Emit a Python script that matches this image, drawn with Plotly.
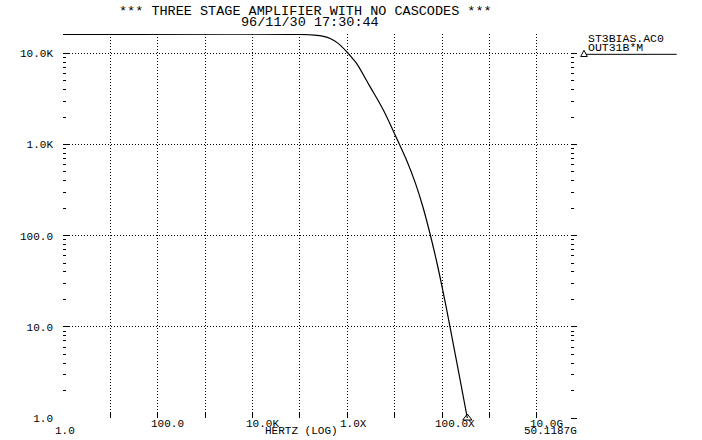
import math
import plotly.graph_objects as go

# ---- data ----
freq_hz = [1, 1.0e5, 2.0e5, 3.16e5, 4.47e5, 6.31e5, 9.72e5, 1.26e6, 1.58e6,
           3.02e6, 5.76e6, 1.10e7, 1.75e7, 2.77e7, 3.92e7, 5.57e7, 7.87e7,
           1.11e8, 1.47e8, 2.24e8, 3.41e8]
mag = [16100, 16100, 15850, 15350, 14450, 12940, 10400, 8910, 7710,
       4310, 2390, 1170, 689, 370, 209, 105, 49.2,
       21.1, 10.0, 3.18, 1.0]

x_tick_vals = [1e2, 1e4, 1e6, 1e8, 1e10]
x_tick_text = ["100.0", "10.0K", "1.0X", "100.0X", "10.0G"]
x_decades = [10 ** k for k in range(0, 11)]
y_tick_vals = [1, 10, 100, 1000, 10000]
y_tick_text = ["1.0", "10.0", "100.0", "1.0K", "10.0K"]
y_minor = [m * 10 ** k for k in range(0, 5) for m in range(2, 10)]

title_text = "*** THREE STAGE AMPLIFIER WITH NO CASCODES ***"
date_text = "96/11/30 17:30:44"
x_title = "HERTZ (LOG)"
x_start_text = "1.0"
x_end_text = "50.1187G"
legend_file = "ST3BIAS.AC0"
legend_sig = "OUT31B*M"

FONT = "Liberation Mono"
INK = "#000000"
TICK_SIZE = 11
Y_RANGE = [0, 4.212]

fig = go.Figure()
fig.add_trace(go.Scatter(
    x=freq_hz, y=mag, mode="lines",
    line=dict(color=INK, width=1.2, shape="spline", smoothing=1.0),
    showlegend=False, hoverinfo="skip"))
# end-of-curve marker, drawn on the right-hand (mirror) axis with identical scale
fig.add_trace(go.Scatter(
    x=freq_hz[-1:], y=mag[-1:], mode="markers", yaxis="y2",
    marker=dict(symbol="triangle-up-open", size=8, color=INK,
                line=dict(width=1, color=INK)),
    cliponaxis=False, showlegend=False, hoverinfo="skip"))

fig.update_layout(
    width=702, height=440,
    margin=dict(l=63, r=132, t=34, b=22),
    paper_bgcolor="white", plot_bgcolor="white",
    font=dict(family=FONT, size=TICK_SIZE, color=INK),
    showlegend=False,
)

fig.update_xaxes(
    type="log", range=[0, 10.7],
    tickvals=x_decades, ticktext=[""] * len(x_decades),
    ticks="inside", ticklen=5, tickwidth=1, tickcolor=INK,
    showgrid=True, gridcolor=INK, gridwidth=1, griddash="1px,2px",
    showline=False, zeroline=False, mirror=False,
)
fig.update_layout(yaxis=dict(
    type="log", range=Y_RANGE,
    tickvals=y_tick_vals, ticktext=y_tick_text,
    ticks="inside", ticklen=6, tickwidth=1, tickcolor=INK,
    minor=dict(tickvals=y_minor, ticks="inside", ticklen=3, tickcolor=INK,
               showgrid=False),
    showgrid=True, gridcolor=INK, gridwidth=1, griddash="1px,2px",
    showline=False, zeroline=False, mirror=False,
    tickfont=dict(family=FONT, size=TICK_SIZE, color=INK),
    ticklabelstandoff=9,
), yaxis2=dict(
    type="log", range=Y_RANGE, overlaying="y", side="right",
    tickvals=y_tick_vals, showticklabels=False,
    ticks="outside", ticklen=6, tickwidth=1, tickcolor=INK,
    minor=dict(tickvals=y_minor, ticks="outside", ticklen=3, tickcolor=INK,
               showgrid=False),
    showgrid=False, showline=False, zeroline=False,
))

ann = []
for v, t in zip(x_tick_vals, x_tick_text):
    ann.append(dict(x=math.log10(v), xref="x", y=-0.0156, yref="paper",
                    text=t, showarrow=False, xanchor="left", yanchor="middle",
                    xshift=-9, font=dict(family=FONT, size=TICK_SIZE, color=INK)))
ann.append(dict(x=0, xref="x", y=-0.034, yref="paper", text=x_start_text,
                showarrow=False, xanchor="left", yanchor="middle", xshift=-10,
                font=dict(family=FONT, size=TICK_SIZE, color=INK)))
ann.append(dict(x=0.4714, xref="paper", y=-0.034, yref="paper", text=x_title,
                showarrow=False, xanchor="center", yanchor="middle",
                font=dict(family=FONT, size=TICK_SIZE, color=INK)))
ann.append(dict(x=0.9606, xref="paper", y=-0.034, yref="paper", text=x_end_text,
                showarrow=False, xanchor="center", yanchor="middle",
                font=dict(family=FONT, size=TICK_SIZE, color=INK)))
ann.append(dict(x=0.479, xref="paper", y=1.0573, yref="paper", text=title_text,
                showarrow=False, xanchor="center", yanchor="middle",
                font=dict(family=FONT, size=13.5, color=INK)))
ann.append(dict(x=0.487, xref="paper", y=1.0306, yref="paper", text=date_text,
                showarrow=False, xanchor="center", yanchor="middle",
                font=dict(family=FONT, size=13.5, color=INK)))
ann.append(dict(x=1.0315, xref="paper", y=0.987, yref="paper", text=legend_file,
                showarrow=False, xanchor="left", yanchor="middle",
                font=dict(family=FONT, size=11.5, color=INK)))
ann.append(dict(x=1.0315, xref="paper", y=0.9654, yref="paper", text=legend_sig,
                showarrow=False, xanchor="left", yanchor="middle",
                font=dict(family=FONT, size=11.5, color=INK)))
fig.update_layout(annotations=ann)

fig.add_shape(type="line", xref="paper", yref="paper",
              x0=1.0276, x1=1.2104, y0=0.9471, y1=0.9471,
              line=dict(color=INK, width=1))
fig.add_shape(type="path", xref="paper", yref="paper",
              path="M 1.0211,0.9414 L 1.0341,0.9414 L 1.0276,0.9576 Z",
              line=dict(color=INK, width=1), fillcolor="white")

fig.write_html("out.html", config={"displayModeBar": False},
               post_script="document.body.style.margin='0';document.body.style.padding='0';")
